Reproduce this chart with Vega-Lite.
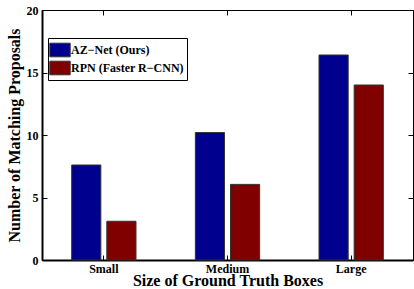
{
  "$schema": "https://vega.github.io/schema/vega-lite/v6.json",
  "width": 371,
  "height": 250,
  "autosize": {"type": "none"},
  "padding": {"left": 42, "top": 10, "right": 1, "bottom": 29},
  "background": "white",
  "config": {
    "view": {"stroke": "black", "strokeWidth": 1},
    "font": "Liberation Serif",
    "axis": {"labelFont": "Liberation Serif", "titleFont": "Liberation Serif", "labelFontWeight": "bold", "titleFontWeight": "bold", "labelColor": "black", "titleColor": "black", "labelFontSize": 12, "titleFontSize": 16, "grid": false, "tickColor": "black", "domainColor": "black"}
  },
  "data": {"values": [
    {"size": "Small", "method": "AZ\u2212Net (Ours)", "value": 7.6},
    {"size": "Small", "method": "RPN (Faster R\u2212CNN)", "value": 3.1},
    {"size": "Medium", "method": "AZ\u2212Net (Ours)", "value": 10.2},
    {"size": "Medium", "method": "RPN (Faster R\u2212CNN)", "value": 6.05},
    {"size": "Large", "method": "AZ\u2212Net (Ours)", "value": 16.4},
    {"size": "Large", "method": "RPN (Faster R\u2212CNN)", "value": 14.0}
  ]},
  "layer": [
    {
      "mark": {"type": "bar", "stroke": "#333333", "strokeWidth": 1},
      "encoding": {
        "x": {"field": "size", "type": "nominal", "sort": ["Small", "Medium", "Large"],
              "scale": {"paddingInner": 0.48, "paddingOuter": 0.24},
              "axis": {"title": "Size of Ground Truth Boxes", "labelAngle": 0, "tickSize": -5, "labelPadding": 8, "titlePadding": -2, "domainWidth": 2, "labelFontWeight": "bold", "labelFont": "Liberation Serif", "labelFontSize": 12}},
        "xOffset": {"field": "method", "type": "nominal", "scale": {"paddingInner": 0.17, "paddingOuter": 0}},
        "y": {"field": "value", "type": "quantitative", "scale": {"domain": [0, 20], "nice": false},
              "axis": {"title": "Number of Matching Proposals", "values": [0, 5, 10, 15, 20], "tickSize": -5, "labelPadding": 9, "titlePadding": 4, "domainWidth": 2, "labelFontWeight": "bold", "labelFont": "Liberation Serif", "labelFontSize": 12}},
        "color": {"field": "method", "type": "nominal",
                  "scale": {"domain": ["AZ\u2212Net (Ours)", "RPN (Faster R\u2212CNN)"], "range": ["#00008F", "#800000"]},
                  "legend": {"title": null, "orient": "none", "legendX": 6, "legendY": 28,
                             "symbolType": "M-1.2,-0.8H1.2V0.8H-1.2Z", "symbolSize": 289, "symbolStrokeColor": "#333333", "symbolStrokeWidth": 1, "symbolOpacity": 1,
                             "labelFont": "Liberation Serif", "labelFontWeight": "bold", "labelFontSize": 12, "labelColor": "black", "labelOffset": 2,
                             "rowPadding": 0, "padding": 3, "strokeColor": "black", "fillColor": "white"}}
      }
    },
    {
      "mark": {"type": "bar", "opacity": 0},
      "encoding": {
        "x": {"field": "size", "type": "nominal", "sort": ["Small", "Medium", "Large"],
              "axis": {"orient": "top", "title": null, "labels": false, "tickSize": -5, "domain": false}},
        "y": {"field": "value", "type": "quantitative",
              "axis": {"orient": "right", "title": null, "labels": false, "values": [0, 5, 10, 15, 20], "tickSize": -5, "domain": false}}
      }
    }
  ],
  "resolve": {"axis": {"x": "independent", "y": "independent"}}
}
